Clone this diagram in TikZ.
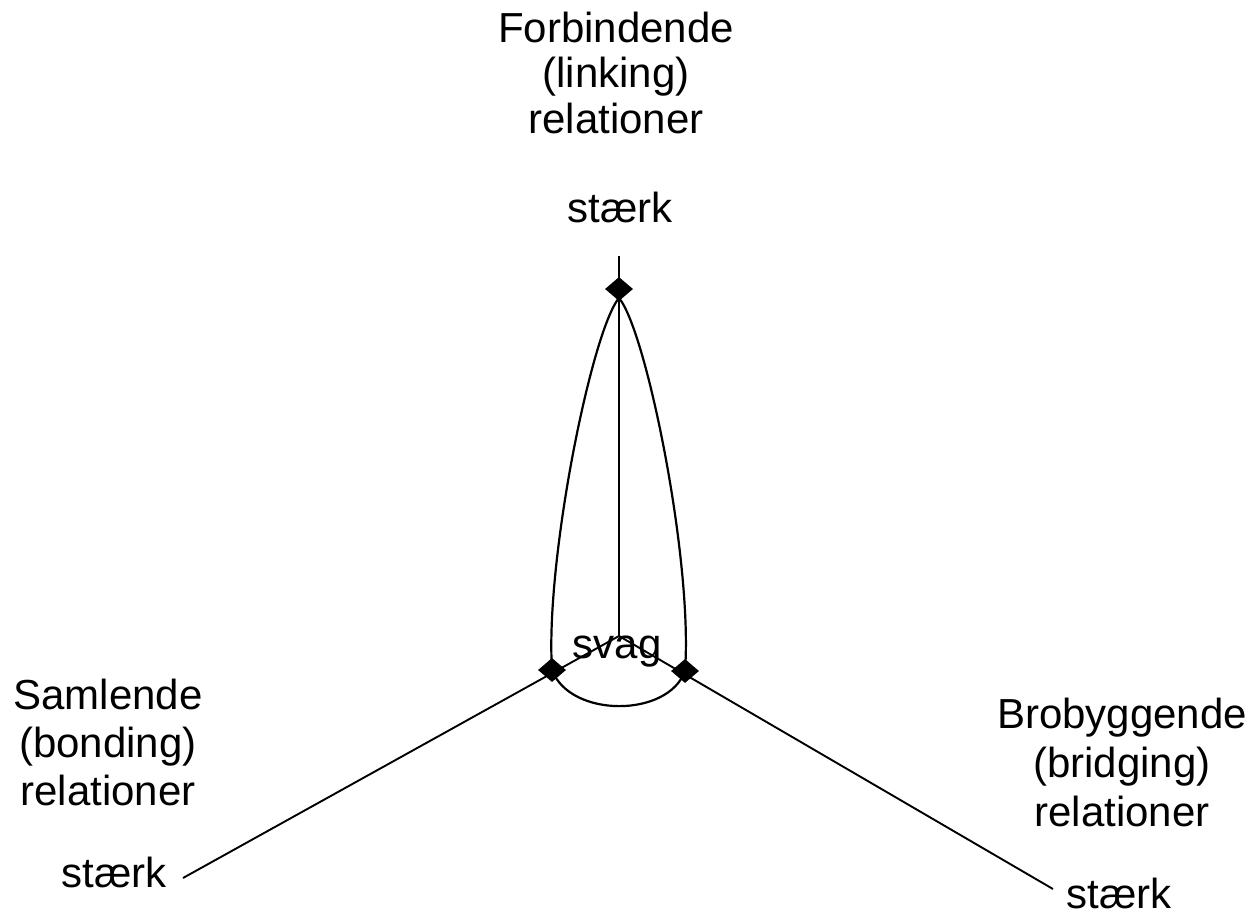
\documentclass[tikz,border=0pt]{standalone}
\usepackage{fontspec}
\setmainfont{Liberation Sans}
\usetikzlibrary{shapes.geometric}
\begin{document}
\begin{tikzpicture}[x=1pt,y=-1pt,
  lbl/.style={inner sep=0pt, anchor=base, font=\fontsize{42}{48}\selectfont},
  axis/.style={line width=1.9pt, black},
  loopline/.style={line width=2.2pt, black},
  dmd/.style={shape=diamond, fill=black, draw=none, inner sep=0pt, minimum width=28pt, minimum height=24pt, aspect=1.17}]
\useasboundingbox (0,0) rectangle (1252,915);
% axis points
\coordinate (C) at (619,636);
\coordinate (T) at (619,256);
\coordinate (L) at (183,878);
\coordinate (R) at (1053,889);
\coordinate (pt) at (619,289);
\coordinate (pl) at (552,670);
\coordinate (pr) at (685,671);
\coordinate (apex) at (619,298);
% axes
\draw[axis] (C) -- (T);
\draw[axis] (C) -- (L);
\draw[axis] (C) -- (R);
% loop
\draw[loopline] (pl) .. controls (545,560) and (592,330) .. (apex)
                     .. controls (646,330) and (693,560) .. (pr);
\draw[loopline] (pl) .. controls (570,718) and (668,718) .. (pr);
% diamonds
\node[dmd] (dt) at (pt) {};
\node[dmd] (dl) at (pl) {};
\node[dmd] (dr) at (pr) {};
% labels top
\node[lbl] (t1) at (616,43) {Forbindende};
\node[lbl] (t2) at (616,88) {(linking)};
\node[lbl] (t3) at (616,133) {relationer};
\node[lbl] (ts) at (620,222) {stærk};
\node[lbl] (sv) at (617,658) {svag};
% labels left
\node[lbl] (l1) at (108,709) {Samlende};
\node[lbl] (l2) at (108,757) {(bonding)};
\node[lbl] (l3) at (108,805) {relationer};
\node[lbl] (ls) at (114,887) {stærk};
% labels right
\node[lbl] (r1) at (1122,728) {Brobyggende};
\node[lbl] (r2) at (1122,777) {(bridging)};
\node[lbl] (r3) at (1122,826) {relationer};
\node[lbl] (rs) at (1119,908) {stærk};
\end{tikzpicture}
\end{document}
